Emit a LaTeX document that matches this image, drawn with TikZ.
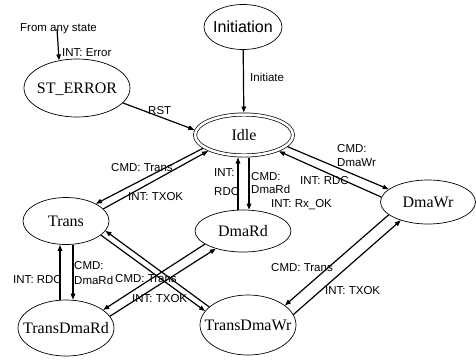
\documentclass[tikz,border=0pt]{standalone}
\usepackage{fontspec}
\setmainfont{Liberation Serif}
\setsansfont{Liberation Sans}
\usetikzlibrary{arrows.meta,shapes.geometric}
\newcommand\stxt[1]{\raisebox{-0.33em}[0pt][0pt]{\makebox[0pt]{#1}}}
\begin{document}
\begin{tikzpicture}[x=1pt,y=-1pt,
  state/.style={draw,ellipse,line width=0.7pt,inner sep=0pt,font=\fontsize{16}{18}\selectfont},
  lbl/.style={anchor=base west,inner sep=0pt,font=\sffamily\fontsize{11.5}{13}\selectfont},
  tr/.style={line width=1.2pt,-{Triangle[length=6pt,width=4.5pt]}}]
\useasboundingbox (0,0) rectangle (476,360);
% states
\node[state,minimum width=78pt,minimum height=45pt,font=\sffamily\fontsize{16}{18}\selectfont] (init) at (243,27) {\stxt{Initiation}};
\node[state,minimum width=106pt,minimum height=58pt] (sterr) at (77,88) {\stxt{ST\_ERROR}};
\node[state,double,double distance=2.5pt,minimum width=98pt,minimum height=41pt,outer sep=2pt] (idle) at (244,135) {\stxt{Idle}};
\node[state,minimum width=86pt,minimum height=47pt] (trans) at (66,221) {\stxt{Trans}};
\node[state,minimum width=96pt,minimum height=42pt] (dmard) at (243,231) {\stxt{DmaRd}};
\node[state,minimum width=95pt,minimum height=44pt] (dmawr) at (428,202) {\stxt{DmaWr}};
\node[state,minimum width=96pt,minimum height=56pt] (tdrd) at (66,328) {\stxt{TransDmaRd}};
\node[state,minimum width=96pt,minimum height=60pt] (tdwr) at (248,325) {\stxt{TransDmaWr}};
% free start
\node[lbl] (anyst) at (20,31) {From any state};
\coordinate (src) at (57,29);
% transitions
\draw[tr] (src) -- (sterr.123);
\draw[tr] (init) -- (idle);
\draw[tr] (sterr.-18) -- (idle.174);
\draw[tr] (idle.198) -- (trans.30);
\draw[tr] (trans.18) -- (idle.204);
\draw[tr] ([xshift=5pt]idle.south) -- ([xshift=6pt]dmard.north);
\draw[tr] ([xshift=-5pt]dmard.north) -- ([xshift=-6pt]idle.south);
\draw[tr] (idle.-15) -- (dmawr.162);
\draw[tr] (dmawr.174) -- (idle.-25);
\draw[tr] ([xshift=7pt]trans.south) -- ([xshift=7pt]tdrd.north);
\draw[tr] ([xshift=-6pt]tdrd.north) -- ([xshift=-6pt]trans.south);
\draw[tr] (dmard.199) -- (tdrd.26);
\draw[tr] (tdrd.15) -- (dmard.213);
\draw[tr] (tdwr.155) -- (trans.-14);
\draw[tr] (trans.-22) -- (tdwr.162);
\draw[tr] (dmawr.198) -- (tdwr.28);
\draw[tr] (tdwr.13) -- (dmawr.214);
% labels
\node[lbl] (l1) at (62,56) {INT: Error};
\node[lbl] (l2) at (250,81) {Initiate};
\node[lbl] (l3) at (148,114) {RST};
\node[lbl] (l4) at (111,171) {CMD: Trans};
\node[lbl] (l5) at (128,200) {INT: TXOK};
\node[lbl] (l6a) at (214,176) {INT:};
\node[lbl] (l6b) at (214,195) {RDC};
\node[lbl] (l7a) at (251,180) {CMD:};
\node[lbl] (l7b) at (251,193) {DmaRd};
\node[lbl] (l8) at (271,207) {INT: Rx\_OK};
\node[lbl] (l9a) at (337,152) {CMD:};
\node[lbl] (l9b) at (337,166) {DmaWr};
\node[lbl] (l10) at (300,184) {INT: RDC};
\node[lbl,anchor=base east] (l11) at (62,283) {INT: RDC};
\node[lbl] (l12a) at (74,269) {CMD:};
\node[lbl] (l12b) at (74,284) {DmaRd};
\node[lbl] (l13) at (115,282) {CMD: Trans};
\node[lbl] (l14) at (132,302) {INT: TXOK};
\node[lbl] (l15) at (271,271) {CMD: Trans};
\node[lbl] (l16) at (325,294) {INT: TXOK};
\end{tikzpicture}
\end{document}
